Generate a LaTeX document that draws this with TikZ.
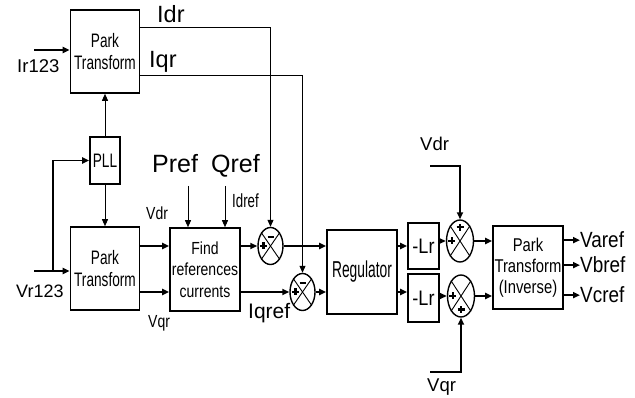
\documentclass[tikz,border=0pt]{standalone}
\usepackage{fontspec}
\setmainfont{Liberation Sans}
\newfontfamily\nA{Liberation Sans}[FakeStretch=0.7]
\newfontfamily\nB{Liberation Sans}[FakeStretch=0.8]
\newfontfamily\nC{Liberation Sans}[FakeStretch=0.6]
\newfontfamily\nD{Liberation Sans}[FakeStretch=0.86]
\usetikzlibrary{arrows.meta,shapes.geometric}
\begin{document}
\begin{tikzpicture}[x=1pt,y=-1pt,
  blk/.style={draw,rectangle,line width=1.6pt,inner sep=0pt,align=center},
  sumn/.style={draw,ellipse,line width=1.4pt,inner sep=0pt,minimum width=25pt,minimum height=37pt},
  xl/.style={line width=0.9pt},
  sgn/.style={line width=2.4pt},
  thn/.style={line width=0.9pt},
  thk/.style={line width=1.8pt},
  arr/.style={-{Triangle[length=7pt,width=6pt]}},
  lbl/.style={inner sep=0pt,anchor=base west}]
\useasboundingbox (0,0) rectangle (635,398);
% blocks
\node[blk,minimum width=69pt,minimum height=83pt,font=\nA\fontsize{19.5}{22}\selectfont] (pk1) at (105,51.5) {Park\\Transform};
\node[blk,minimum width=30pt,minimum height=47pt,font=\nA\fontsize{19.5}{22}\selectfont] (pll) at (105,160.5) {PLL};
\node[blk,minimum width=69pt,minimum height=83pt,font=\nA\fontsize{19.5}{22}\selectfont] (pk2) at (105,268.5) {Park\\Transform};
\node[blk,minimum width=70pt,minimum height=83pt,font=\nB\fontsize{17.5}{21.5}\selectfont] (find) at (205,269.5) {Find\\references\\currents};
\node[blk,minimum width=70pt,minimum height=84pt,font=\nC\fontsize{23}{26}\selectfont] (reg) at (362,272) {Regulator};
\node[blk,minimum width=31pt,minimum height=46pt,font=\nD\fontsize{21}{24}\selectfont] (lr1) at (423.5,246) {-Lr};
\node[blk,minimum width=31pt,minimum height=48pt,font=\nD\fontsize{21}{24}\selectfont] (lr2) at (423.5,298) {-Lr};
\node[blk,minimum width=70pt,minimum height=83pt,font=\nB\fontsize{18.5}{21}\selectfont] (inv) at (528,267.5) {Park\\Transform\\(Inverse)};
% sums
\node[sumn] (s1) at (270.5,246) {};
\node[sumn] (s2) at (302.5,292) {};
\node[sumn,minimum width=27pt,minimum height=42pt] (s3) at (460,241) {};
\node[sumn,minimum width=27pt,minimum height=42pt] (s4) at (461,296) {};
\foreach \s in {s1,s2,s3,s4}{
  \draw[xl] (\s.north west) -- (\s.south east);
  \draw[xl] (\s.north east) -- (\s.south west);
}
% signs
\draw[sgn] ([yshift=-10pt]s1.north) +(-3,0) -- +(3,0);
\draw[sgn] ([xshift=6pt]s1.west) +(-3.5,0) -- +(3.5,0) +(0,-3.5) -- +(0,3.5);
\draw[sgn] ([yshift=-10pt]s2.north) +(-3,0) -- +(3,0);
\draw[sgn] ([xshift=6pt]s2.west) +(-3.5,0) -- +(3.5,0) +(0,-3.5) -- +(0,3.5);
\draw[sgn] ([yshift=-8pt]s3.north) +(-3.5,0) -- +(3.5,0) +(0,-3.5) -- +(0,3.5);
\draw[sgn] ([xshift=6pt]s3.west) +(-3.5,0) -- +(3.5,0) +(0,-3.5) -- +(0,3.5);
\draw[sgn] ([xshift=6pt]s4.west) +(-3.5,0) -- +(3.5,0) +(0,-3.5) -- +(0,3.5);
\draw[sgn] ([yshift=8pt]s4.south) +(-3.5,0) -- +(3.5,0) +(0,-3.5) -- +(0,3.5);
% labels
\node[lbl,font=\fontsize{23.5}{26}\selectfont] (idr) at (157,23) {Idr};
\node[lbl,font=\fontsize{23.5}{26}\selectfont] (iqr) at (149,68) {Iqr};
\node[lbl,font=\fontsize{18.5}{22}\selectfont] (ir) at (17,73) {Ir123};
\node[lbl,font=\fontsize{18}{22}\selectfont] (vr) at (16,298) {Vr123};
\node[lbl,font=\fontsize{25}{28}\selectfont] (pref) at (152,173) {Pref};
\node[lbl,font=\fontsize{25}{28}\selectfont] (qref) at (211,173) {Qref};
\node[lbl,font=\nB\fontsize{17.5}{20}\selectfont] (vdl) at (146,220) {Vdr};
\node[lbl,font=\nA\fontsize{19}{20}\selectfont] (idref) at (232,208) {Idref};
\node[lbl,font=\nB\fontsize{17.5}{20}\selectfont] (vql) at (148,327) {Vqr};
\node[lbl,font=\fontsize{21}{24}\selectfont] (iqref) at (248,319) {Iqref};
\node[lbl,font=\fontsize{18.5}{22}\selectfont] (vdrr) at (420,151) {Vdr};
\node[lbl,font=\fontsize{18.5}{22}\selectfont] (vqrr) at (427,391) {Vqr};
\node[lbl,font=\nD\fontsize{22}{24}\selectfont] (va) at (580,248) {Varef};
\node[lbl,font=\nD\fontsize{22}{24}\selectfont] (vb) at (580,273) {Vbref};
\node[lbl,font=\nD\fontsize{22}{24}\selectfont] (vc) at (580,303) {Vcref};
% reference coordinates
\coordinate (irin) at (34,50);
\coordinate (vrin) at (34,271);
\coordinate (br) at (53,271);
\coordinate (idrp) at (140,27);
\coordinate (iqrp) at (140,75);
\coordinate (prefs) at (188,186);
\coordinate (qrefs) at (225,186);
\coordinate (vdrs) at (430,166);
\coordinate (vqrs) at (430,372);
\coordinate (rowA) at (0,246);
\coordinate (rowB) at (0,292);
% connectors
\draw[thk,arr] (irin) -- (irin -| pk1.west);
\draw[thk,arr] (vrin) -- (vrin -| pk2.west);
\draw[thk,arr] (br) |- (pll.west);
\draw[thn,arr] (pll.north) -- (pk1.south);
\draw[thn,arr] (pll.south) -- (pk2.north);
\draw[thn,arr] (idrp) -| (s1.north);
\draw[thn,arr] (iqrp) -| (s2.north);
\draw[thn,arr] (prefs) -- (prefs |- find.north);
\draw[thn,arr] (qrefs) -- (qrefs |- find.north);
\draw[thk,arr] (pk2.east |- rowA) -- (find.west |- rowA);
\draw[thk,arr] (pk2.east |- rowB) -- (find.west |- rowB);
\draw[thk,arr] (find.east |- rowA) -- (s1.west);
\draw[thk,arr] (find.east |- rowB) -- (s2.west);
\draw[thk,arr] (s1.east) -- (s1.east -| reg.west);
\draw[thk,arr] (s2.east) -- (s2.east -| reg.west);
\draw[thk,arr] (reg.east |- lr1.west) -- (lr1.west);
\draw[thk,arr] (reg.east |- rowB) -- (lr2.west |- rowB);
\draw[thk,arr] (lr1.east |- s3.west) -- (s3.west);
\draw[thk,arr] (lr2.east |- s4.west) -- (s4.west);
\draw[thk,arr] (s3.east) -- (s3.east -| inv.west);
\draw[thk,arr] (s4.east) -- (s4.east -| inv.west);
\draw[thk,arr] (vdrs) -| (s3.north);
\draw[thk,arr] (vqrs) -| (s4.south);
\draw[thk,arr] (va.west -| inv.east) -- (va.west);
\draw[thk,arr] (vb.west -| inv.east) -- (vb.west);
\draw[thk,arr] (vc.west -| inv.east) -- (vc.west);
\end{tikzpicture}
\end{document}
